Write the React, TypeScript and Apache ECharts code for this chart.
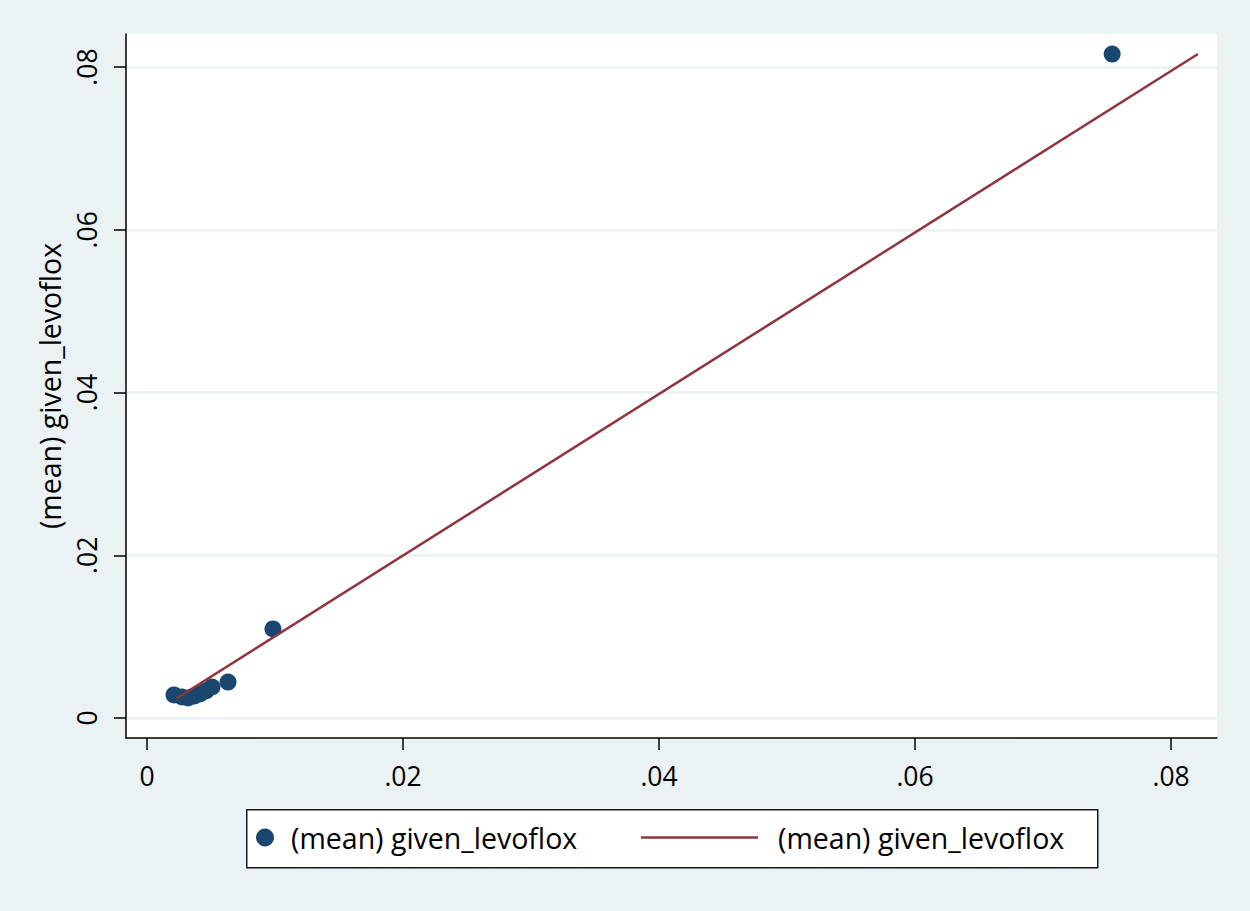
import React, { useEffect, useRef } from "react";
import * as echarts from "echarts";

const seriesLabel = "(mean) given_levoflox";
const xTickValues = [0, 0.02, 0.04, 0.06, 0.08];
const xTickLabels = ["0", ".02", ".04", ".06", ".08"];
const yTickValues = [0, 0.02, 0.04, 0.06, 0.08];
const yTickLabels = ["0", ".02", ".04", ".06", ".08"];

// scatter points: [x, y]
const scatterX = [0.00211, 0.00273, 0.0032, 0.00367, 0.00414, 0.00461, 0.00508, 0.00633, 0.00984, 0.0754];
const scatterY = [0.00283, 0.00258, 0.00246, 0.0027, 0.00295, 0.00332, 0.00381, 0.00442, 0.01094, 0.0816];

// line endpoints
const lineX = [0.0023, 0.0821];
const lineY = [0.0024, 0.0816];

const FONT = "'Open Sans', sans-serif";

export default function App() {
  const ref = useRef<HTMLDivElement>(null);
  useEffect(() => {
    if (!ref.current) return;
    const chart = echarts.init(ref.current, undefined, { renderer: "svg" });
    const fmt = (vals: number[], labels: string[]) => (v: number) => {
      const i = vals.findIndex((t) => Math.abs(t - v) < 1e-9);
      return i >= 0 ? labels[i] : "";
    };
    chart.setOption({
      animation: false,
      backgroundColor: "#EAF2F3",
      grid: { left: 126, right: 33, top: 34, bottom: 173, backgroundColor: "#FFFFFF", show: true, borderWidth: 0 },
      xAxis: {
        type: "value",
        min: -0.00164,
        max: 0.08359,
        axisLine: { show: true, onZero: false, lineStyle: { color: "#000", width: 1.5 } },
        axisTick: { show: true, length: 12, customValues: xTickValues, lineStyle: { color: "#000", width: 1.5 } },
        axisLabel: { customValues: xTickValues, formatter: fmt(xTickValues, xTickLabels), fontFamily: FONT, fontSize: 26.5, color: "#000", margin: 24 },
        splitLine: { show: false },
      },
      yAxis: {
        type: "value",
        min: -0.002458,
        max: 0.08406,
        name: seriesLabel,
        nameLocation: "middle",
        nameGap: 62,
        nameRotate: 90,
        nameTextStyle: { fontFamily: FONT, fontSize: 28.5, color: "#000" },
        axisLine: { show: true, onZero: false, lineStyle: { color: "#000", width: 1.5 } },
        axisTick: { show: true, length: 12, customValues: yTickValues, lineStyle: { color: "#000", width: 1.5 } },
        axisLabel: { customValues: yTickValues, rotate: 90, formatter: fmt(yTickValues, yTickLabels), fontFamily: FONT, fontSize: 26.5, color: "#000", margin: 26 },
        splitLine: { show: true, lineStyle: { color: "#EAF2F3", width: 2.5 } },
      },
      legend: [
        {
          data: ["scatter"],
          formatter: () => seriesLabel,
          left: 256,
          top: 823,
          icon: "circle",
          itemWidth: 18,
          itemHeight: 18,
          padding: 0,
          textStyle: { fontFamily: FONT, fontSize: 28.5, color: "#000", padding: [0, 0, 0, 12] },
        },
        {
          data: ["fit"],
          formatter: () => seriesLabel,
          left: 641,
          top: 823,
          icon: "rect",
          itemWidth: 117,
          itemHeight: 2.5,
          padding: 0,
          textStyle: { fontFamily: FONT, fontSize: 28.5, color: "#000", padding: [0, 0, 0, 15] },
        },
      ],
      graphic: [
        {
          type: "rect",
          left: 246,
          top: 809,
          z: -1,
          shape: { width: 851, height: 58 },
          style: { fill: "#FFFFFF", stroke: "#1a1a1a", lineWidth: 1.5 },
        },
      ],
      series: [
        {
          name: "scatter",
          type: "scatter",
          symbol: "circle",
          symbolSize: 17,
          itemStyle: { color: "#1a476f", opacity: 1 },
          data: scatterX.map((x, i) => [x, scatterY[i]]),
          z: 2,
        },
        {
          name: "fit",
          type: "line",
          showSymbol: false,
          symbol: "none",
          lineStyle: { color: "#90353b", width: 2.5 },
          itemStyle: { color: "#90353b" },
          data: lineX.map((x, i) => [x, lineY[i]]),
          z: 3,
        },
      ],
    });
    return () => chart.dispose();
  }, []);
  return <div ref={ref} style={{ width: 1250, height: 911, position: "absolute", left: 0, top: 0 }} />;
}
